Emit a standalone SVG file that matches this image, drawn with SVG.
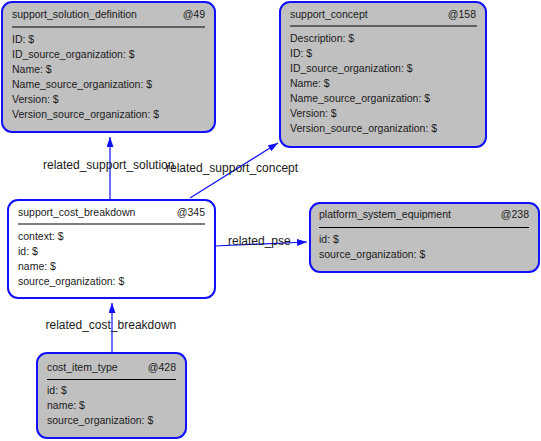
<svg xmlns="http://www.w3.org/2000/svg" width="541" height="441" viewBox="0 0 541 441">
<style>
text{font-family:"Liberation Sans",Arial,sans-serif;fill:#1a1a1a}
.t{font-size:10.5px}
.l{font-size:12px}
.box{fill:#c0c0c0;stroke:#1010ff;stroke-width:2}
.wbox{fill:#ffffff;stroke:#1010ff;stroke-width:2}
.sep{stroke:#000;stroke-width:1.2}
.e{stroke:#1010ff;stroke-width:1.2;fill:none;marker-end:url(#arr)}
</style>
<defs>
<marker id="arr" markerUnits="userSpaceOnUse" markerWidth="11" markerHeight="8" refX="10" refY="3.5" orient="auto">
<path d="M0,0 L10,3.5 L0,7 z" fill="#1010ff"/>
</marker>
</defs>
<rect width="541" height="441" fill="#fff"/>
<g id="connectors">
<line class="e" x1="110" y1="200" x2="110" y2="137"/>
<line class="e" x1="190" y1="198" x2="278" y2="143"/>
<line class="e" x1="215" y1="246" x2="307" y2="242"/>
<line class="e" x1="112" y1="353" x2="112" y2="303"/>
<text class="l" x="43" y="169">related_support_solution</text>
<text class="l" x="166" y="172">related_support_concept</text>
<text class="l" x="228" y="245">related_pse</text>
<text class="l" x="45.5" y="329">related_cost_breakdown</text>
</g>
<g id="n49">
<rect class="box" x="2" y="2" width="213" height="130" rx="10"/>
<text class="t" x="12" y="18">support_solution_definition</text>
<text class="t" x="205" y="18" text-anchor="end">@49</text>
<line class="sep" x1="12" y1="27" x2="205" y2="27"/>
<text class="t" x="12" y="43">ID: $</text>
<text class="t" x="12" y="58">ID_source_organization: $</text>
<text class="t" x="12" y="73">Name: $</text>
<text class="t" x="12" y="88">Name_source_organization: $</text>
<text class="t" x="12" y="103">Version: $</text>
<text class="t" x="12" y="118">Version_source_organization: $</text>
</g>
<g id="n158">
<rect class="box" x="280" y="2" width="206" height="145" rx="10"/>
<text class="t" x="290" y="17.5">support_concept</text>
<text class="t" x="476" y="17.5" text-anchor="end">@158</text>
<line class="sep" x1="290" y1="26" x2="477" y2="26"/>
<text class="t" x="290" y="42">Description: $</text>
<text class="t" x="290" y="57">ID: $</text>
<text class="t" x="290" y="72">ID_source_organization: $</text>
<text class="t" x="290" y="87">Name: $</text>
<text class="t" x="290" y="102">Name_source_organization: $</text>
<text class="t" x="290" y="117">Version: $</text>
<text class="t" x="290" y="132">Version_source_organization: $</text>
</g>
<g id="n345">
<rect class="wbox" x="8" y="200" width="207" height="98" rx="10"/>
<text class="t" x="18" y="215.5">support_cost_breakdown</text>
<text class="t" x="205" y="215.5" text-anchor="end">@345</text>
<line class="sep" x1="18" y1="224" x2="205" y2="224"/>
<text class="t" x="18" y="240">context: $</text>
<text class="t" x="18" y="255">id: $</text>
<text class="t" x="18" y="270">name: $</text>
<text class="t" x="18" y="285">source_organization: $</text>
</g>
<g id="n238">
<rect class="box" x="310" y="203" width="229" height="69" rx="10"/>
<text class="t" x="319" y="218">platform_system_equipment</text>
<text class="t" x="529" y="218" text-anchor="end">@238</text>
<line class="sep" x1="319" y1="227.5" x2="529" y2="227.5"/>
<text class="t" x="319" y="243">id: $</text>
<text class="t" x="319" y="257.5">source_organization: $</text>
</g>
<g id="n428">
<rect class="box" x="37" y="353" width="149" height="85" rx="10"/>
<text class="t" x="47" y="370.5">cost_item_type</text>
<text class="t" x="176" y="370.5" text-anchor="end">@428</text>
<line class="sep" x1="47" y1="379.5" x2="176" y2="379.5"/>
<text class="t" x="47" y="394">id: $</text>
<text class="t" x="47" y="409">name: $</text>
<text class="t" x="47" y="424">source_organization: $</text>
</g>
</svg>
